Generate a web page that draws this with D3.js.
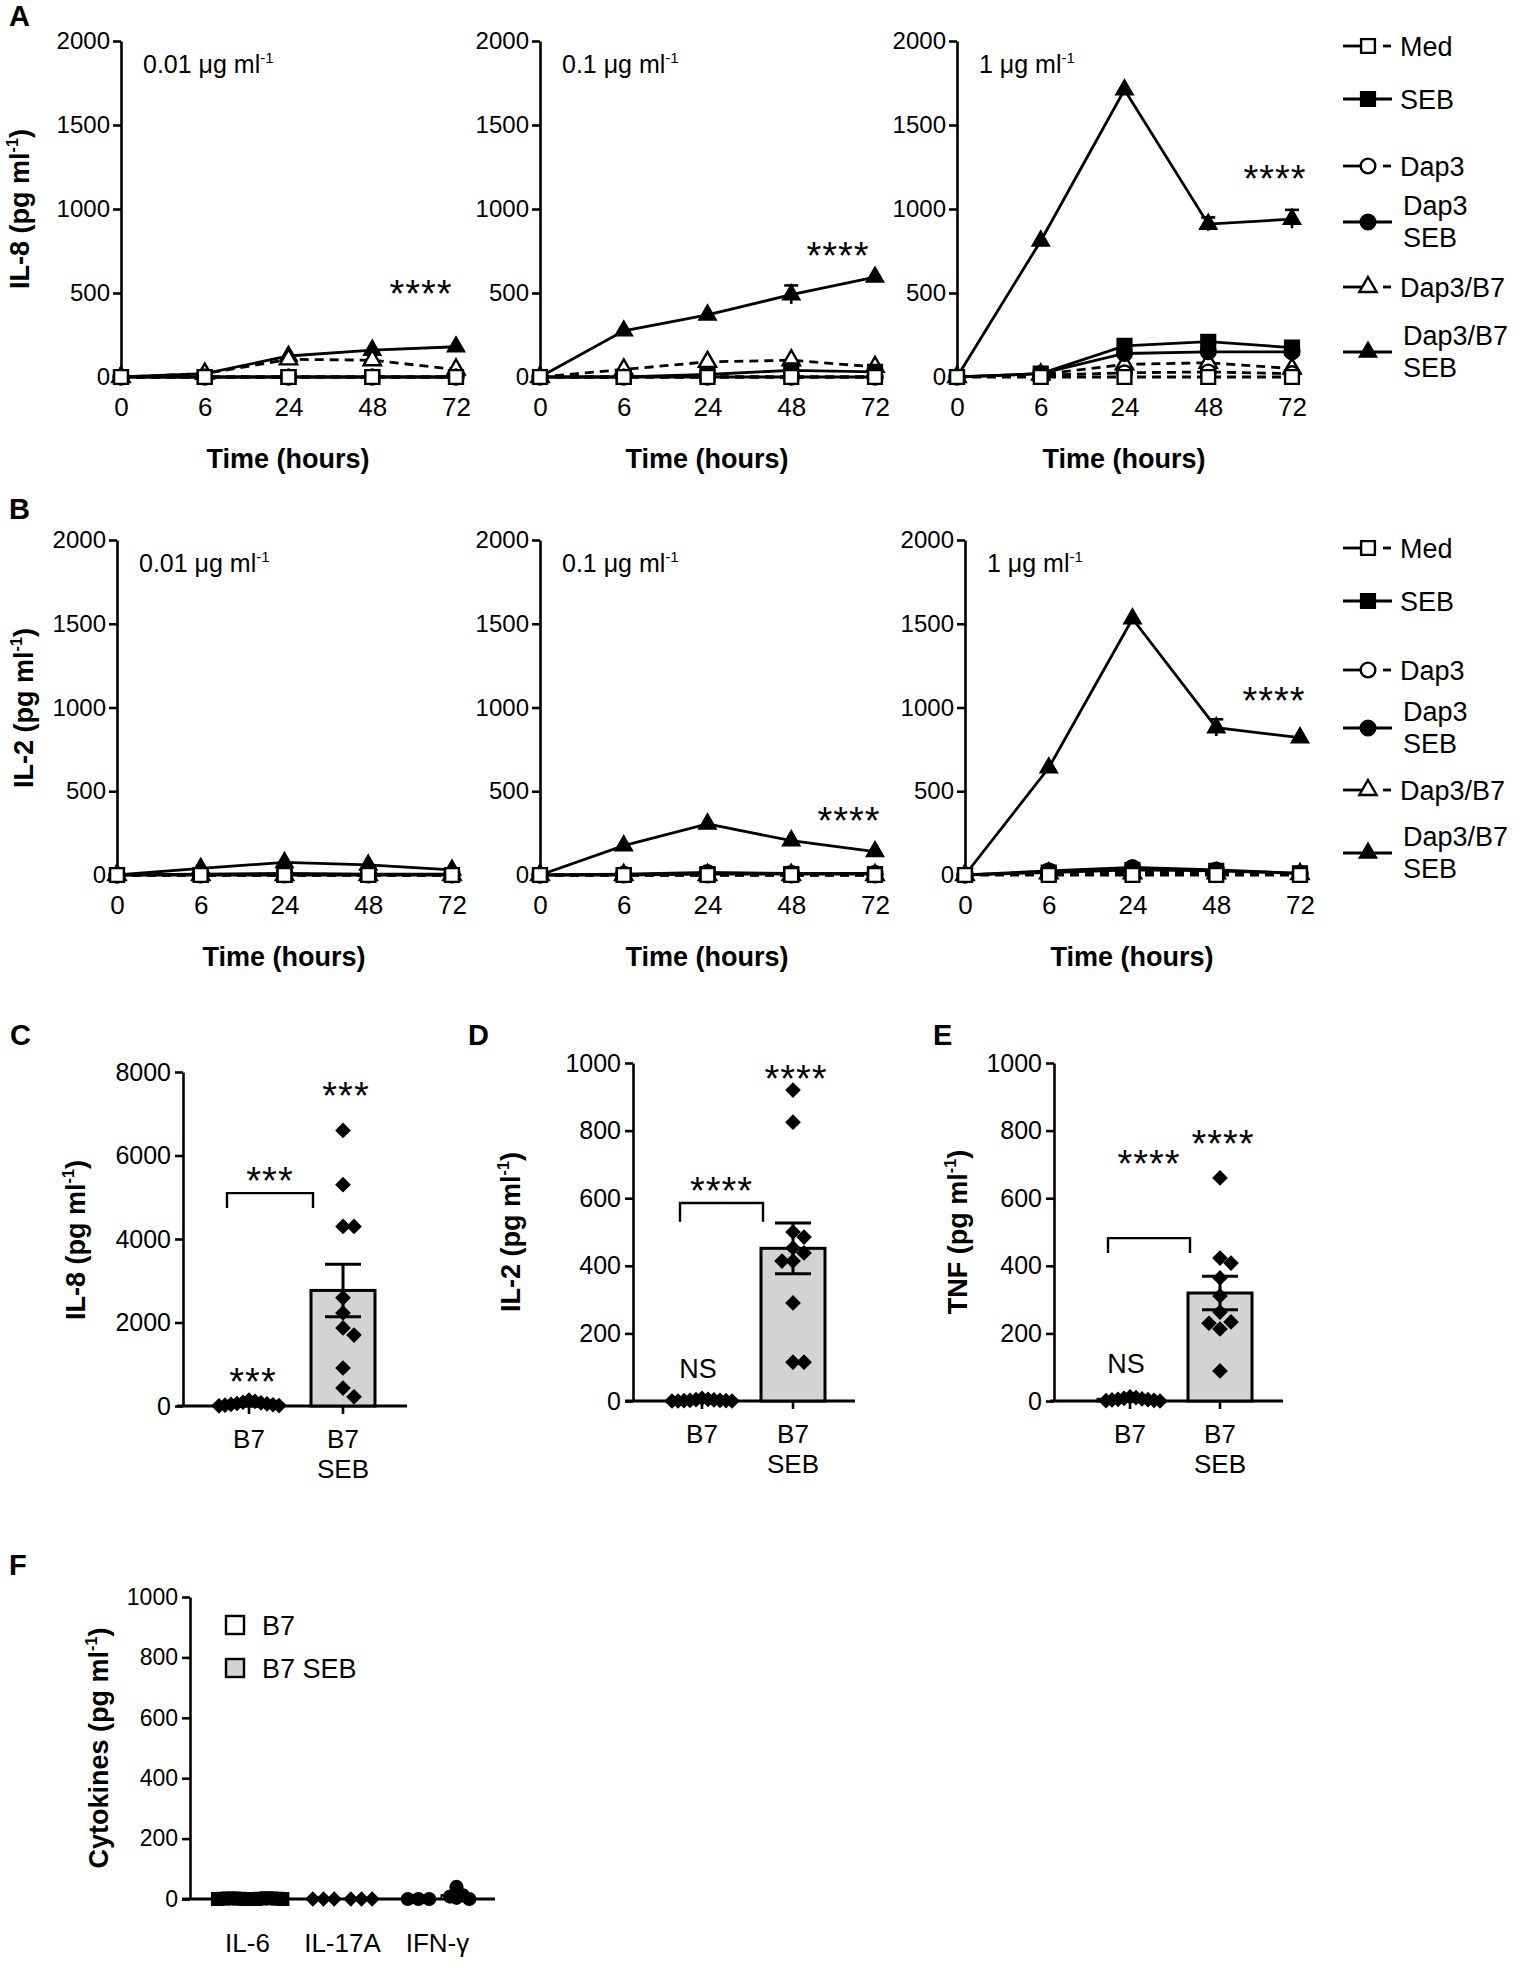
<!DOCTYPE html>
<html lang="en">
<head>
<meta charset="UTF-8">
<title>IL-8 / IL-2 / TNF response to SEB</title>
<script src="https://d3js.org/d3.v7.min.js"></script>
<style>
  body { margin: 0; background: #fff; }
  svg text { font-family: 'Liberation Sans', Arial, Helvetica, sans-serif; fill: #000; }
  .axis path, .axis line { stroke: #000; stroke-width: 2.6px; }
</style>
</head>
<body>
<svg id="fig" width="1522" height="1971"></svg>
<script>
// ---- data: time courses (rows follow seriesNames) ----
const timeLabels = ["0", "6", "24", "48", "72"];
const seriesNames = ["Med", "SEB", "Dap3", "Dap3 SEB", "Dap3/B7", "Dap3/B7 SEB"];
const doseLabels = ["0.01", "0.1", "1"];

const il8Low = [
  [0, 0, 0, 0, 0],
  [0, 0, 0, 0, 0],
  [0, 0, 0, 0, 0],
  [0, 0, 0, 0, 0],
  [0, 20, 105, 100, 45],
  [0, 20, 125, 160, 180]
];
const il8Mid = [
  [0, 0, 0, 0, 0],
  [0, 0, 15, 40, 30],
  [0, 0, 0, 0, 0],
  [0, 0, 0, 0, 0],
  [0, 45, 90, 100, 60],
  [0, 275, 370, 490, 595]
];
const il8High = [
  [0, 0, 0, 0, 0],
  [0, 20, 185, 210, 175],
  [0, 10, 25, 30, 20],
  [0, 20, 140, 150, 150],
  [0, 15, 75, 85, 50],
  [0, 810, 1710, 910, 940]
];
const il2Low = [
  [0, 0, 0, 0, 0],
  [0, 0, 0, 0, 0],
  [0, 0, 0, 0, 0],
  [0, 5, 10, 5, 5],
  [0, 0, 0, 0, 0],
  [0, 40, 75, 60, 30]
];
const il2Mid = [
  [0, 0, 0, 0, 0],
  [0, 0, 5, 5, 5],
  [0, 0, 0, 0, 0],
  [0, 5, 15, 10, 10],
  [0, 0, 0, 0, 0],
  [0, 175, 305, 205, 140]
];
const il2High = [
  [0, 0, 0, 0, 0],
  [0, 15, 30, 25, 10],
  [0, 20, 25, 20, 5],
  [0, 25, 45, 30, 10],
  [0, 10, 10, 10, 5],
  [0, 640, 1530, 880, 820]
];
// SEM of the Dap3/B7 SEB series
const il8LowErr = [0, 0, 0, 0, 0];
const il8MidErr = [0, 0, 0, 55, 0];
const il8HighErr = [0, 0, 0, 40, 55];
const il2LowErr = [0, 0, 0, 0, 0];
const il2MidErr = [0, 0, 0, 0, 0];
const il2HighErr = [0, 0, 0, 50, 0];

// ---- data: single donors at 24 h ----
const barGroups = ["B7", "B7 SEB"];
const il8B7 = [140, 110, 90, 75, 60, 50, 40, 30, 20, 10, 5];
const il8B7Seb = [6600, 5300, 4300, 4300, 2590, 2230, 1870, 1700, 910, 430, 220];
const il2B7 = [8, 5, 4, 3, 2, 2, 1, 1, 0, 0, 0];
const il2B7Seb = [920, 825, 500, 485, 453, 438, 414, 414, 290, 115, 115];
const tnfB7 = [12, 10, 8, 6, 5, 4, 3, 2, 1, 0];
const tnfB7Seb = [660, 423, 408, 364, 311, 263, 234, 230, 213, 89];

const cytokines = ["IL-6", "IL-17A", "IFN-γ"];
const otherB7 = [[2, 2, 1, 1, 0, 0], [0, 0, 0], [0, 0, 0]];
const otherB7Seb = [[3, 2, 1, 1, 0, 0], [0, 0, 0], [40, 12, 8, 4, 0]];

// ---- styles ----
const seriesShape = [d3.symbolSquare, d3.symbolSquare, d3.symbolCircle, d3.symbolCircle, d3.symbolTriangle, d3.symbolTriangle];
const seriesSize = [190, 190, 170, 170, 130, 110];
const seriesFilled = [false, true, false, true, false, true];
const seriesDashed = [true, false, true, false, true, false];

const svg = d3.select("#fig");

function panelLetter(t, x, y) {
  svg.append("text").attr("x", x).attr("y", y).text(t)
    .style("font-size", "29px").style("font-weight", "bold");
}

// text with a "-1" superscript unit
function unitText(g, pre, post, size) {
  g.append("tspan").text(pre);
  g.append("tspan").text("-1").attr("dy", -size * 0.4).style("font-size", (size * 0.6) + "px");
  if (post) g.append("tspan").text(post).attr("dy", size * 0.4);
}

function yTitle(label, x, y) {
  const t = svg.append("text")
    .attr("transform", `translate(${x},${y}) rotate(-90)`)
    .attr("text-anchor", "middle")
    .style("font-size", "27px").style("font-weight", "bold");
  unitText(t, label + " (pg ml", ")", 27);
}

function marker(g, shape, size, cx, cy, filled, rot) {
  g.append("path")
    .attr("d", d3.symbol(shape, size)())
    .attr("transform", `translate(${cx},${cy})` + (rot ? ` rotate(${rot})` : ""))
    .attr("fill", filled === true ? "#000" : (filled || "#fff"))
    .attr("stroke", "#000").attr("stroke-width", 2.4);
}

function starText(g, x, y, t) {
  g.append("text").attr("x", x).attr("y", y + 22).attr("text-anchor", "middle")
    .style("font-size", "38px").style("letter-spacing", "1px").text(t);
}

// ---------- time-course panels ----------
function timeChart(o) {
  const x = d3.scalePoint().domain(timeLabels).range([o.ax, o.ax + 335]);
  const y = d3.scaleLinear().domain([0, 2000]).range([o.base, o.top]);
  const g = svg.append("g");

  g.append("g").attr("class", "axis").attr("transform", `translate(${o.ax},0)`)
    .call(d3.axisLeft(y).tickValues([0, 500, 1000, 1500, 2000]).tickFormat(d3.format("d"))
      .tickSize(8).tickSizeOuter(0).tickPadding(3))
    .call(a => a.selectAll("text").style("font-size", "24px"));

  g.append("g").attr("transform", `translate(0,${o.base})`)
    .call(d3.axisBottom(x).tickSize(0).tickPadding(21))
    .call(a => a.select(".domain").remove())
    .call(a => a.selectAll("text").style("font-size", "26px"));

  g.append("text").attr("x", o.ax + 167).attr("y", o.base + 91)
    .attr("text-anchor", "middle").style("font-size", "27px").style("font-weight", "bold")
    .text("Time (hours)");

  const dose = g.append("text").attr("x", o.ax + 22).attr("y", o.top + 32).style("font-size", "25px");
  unitText(dose, o.dose + " μg ml", null, 25);

  const line = d3.line().x((d, i) => x(timeLabels[i])).y(d => y(d));
  // last series first, so Med ends on top
  d3.range(o.rows.length).reverse().forEach(s => {
    const vals = o.rows[s];
    g.append("path").attr("d", line(vals)).attr("fill", "none")
      .attr("stroke", "#000").attr("stroke-width", 2.8)
      .attr("stroke-dasharray", seriesDashed[s] ? "9,6" : null);
    if (s === 5) {
      o.err.forEach((e, i) => {
        if (!e) return;
        const cx = x(timeLabels[i]);
        g.append("line").attr("x1", cx).attr("x2", cx)
          .attr("y1", y(vals[i] - e)).attr("y2", y(vals[i] + e))
          .attr("stroke", "#000").attr("stroke-width", 2.6);
        g.append("line").attr("x1", cx - 7).attr("x2", cx + 7)
          .attr("y1", y(vals[i] + e)).attr("y2", y(vals[i] + e))
          .attr("stroke", "#000").attr("stroke-width", 2.6);
      });
    }
    vals.forEach((v, i) => marker(g, seriesShape[s], seriesSize[s], x(timeLabels[i]), y(v), seriesFilled[s]));
  });

  if (o.star != null) starText(g, x("72") + o.starDx, y(o.star), "****");
}

function timeLegend(rowY) {
  const g = svg.append("g");
  seriesNames.forEach((name, s) => {
    const cy = rowY[s];
    if (seriesDashed[s]) {
      g.append("line").attr("x1", 1343).attr("x2", 1368).attr("y1", cy).attr("y2", cy)
        .attr("stroke", "#000").attr("stroke-width", 2.8);
      g.append("line").attr("x1", 1383).attr("x2", 1391).attr("y1", cy).attr("y2", cy)
        .attr("stroke", "#000").attr("stroke-width", 2.8);
    } else {
      g.append("line").attr("x1", 1343).attr("x2", 1392).attr("y1", cy).attr("y2", cy)
        .attr("stroke", "#000").attr("stroke-width", 2.8);
    }
    marker(g, seriesShape[s], seriesSize[s], 1368, cy, seriesFilled[s]);
    const lines = name.split(" ");
    lines.forEach((t, k) => {
      const by = lines.length === 1 ? cy + 10 : cy - 7 + k * 32;
      g.append("text").attr("x", lines.length === 1 ? 1400 : 1403).attr("y", by)
        .style("font-size", "27px").text(t);
    });
  });
}

// panel A: IL-8
panelLetter("A", 9, 26);
yTitle("IL-8", 29, 209);
const il8Rows = [il8Low, il8Mid, il8High];
const il8Errs = [il8LowErr, il8MidErr, il8HighErr];
const aAxes = [121, 540, 957];
const aStars = [548, 774, 1232];
const aStarDx = [-35, -37, -17];
doseLabels.forEach((d, i) => timeChart({
  ax: aAxes[i], top: 41, base: 377, dose: d, rows: il8Rows[i], err: il8Errs[i],
  star: aStars[i], starDx: aStarDx[i]
}));
timeLegend([46, 99, 166, 222, 287, 352]);

// panel B: IL-2
panelLetter("B", 9, 519);
yTitle("IL-2", 33, 708);
const il2Rows = [il2Low, il2Mid, il2High];
const il2Errs = [il2LowErr, il2MidErr, il2HighErr];
const bAxes = [117, 540, 965];
const bStars = [null, 376, 1093];
const bStarDx = [0, -26, -26];
doseLabels.forEach((d, i) => timeChart({
  ax: bAxes[i], top: 540, base: 875, dose: d, rows: il2Rows[i], err: il2Errs[i],
  star: bStars[i], starDx: bStarDx[i]
}));
timeLegend([548, 601, 670, 728, 790, 853]);

// ---------- scatter-bar panels ----------
const diamond = d3.symbolSquare;

// spread tied points sideways (simple beeswarm)
function swarm(values, y, step, rad) {
  const placed = [];
  const out = new Array(values.length);
  d3.range(values.length).sort((a, b) => values[b] - values[a]).forEach(i => {
    const py = y(values[i]);
    for (let k = 0; k < 60; k++) {
      const off = (k % 2 ? 1 : -1) * Math.ceil(k / 2) * step;
      if (!placed.some(p => Math.abs(p.x - off) < step * 0.99 && Math.abs(p.y - py) < rad)) {
        placed.push({ x: off, y: py });
        out[i] = off;
        break;
      }
    }
  });
  return out;
}

function barChart(o) {
  const g = svg.append("g");
  const x = d3.scalePoint().domain(barGroups).range(o.centers);
  const y = d3.scaleLinear().domain([0, o.max]).range([o.base, o.top]);

  g.append("g").attr("class", "axis").attr("transform", `translate(${o.ax},0)`)
    .call(d3.axisLeft(y).ticks(5).tickFormat(d3.format("d")).tickSize(8).tickSizeOuter(0).tickPadding(4))
    .call(a => a.selectAll("text").style("font-size", "25px"));

  g.append("line").attr("x1", o.lineX[0]).attr("x2", o.lineX[1])
    .attr("y1", o.base).attr("y2", o.base).attr("stroke", "#000").attr("stroke-width", 3);

  barGroups.forEach((grp, gi) => {
    const vals = o.data[gi];
    const cx = x(grp);
    const m = d3.mean(vals);
    const sem = d3.deviation(vals) / Math.sqrt(vals.length);
    g.append("line").attr("x1", cx).attr("x2", cx).attr("y1", o.base).attr("y2", o.base + 8)
      .attr("stroke", "#000").attr("stroke-width", 2.6);
    g.append("rect").attr("x", cx - 32).attr("width", 64)
      .attr("y", y(m)).attr("height", o.base - y(m))
      .attr("fill", gi ? "#d3d3d3" : "#fff").attr("stroke", "#000").attr("stroke-width", 3);
    const offs = swarm(vals, y, gi ? 11 : 6, 12);
    vals.forEach((v, i) => marker(g, diamond, 76, cx + offs[i], y(v), true, 45));
    if (gi) {
      g.append("line").attr("x1", cx).attr("x2", cx).attr("y1", y(m - sem)).attr("y2", y(m + sem))
        .attr("stroke", "#000").attr("stroke-width", 3);
      [m - sem, m + sem].forEach(v => g.append("line")
        .attr("x1", cx - 18).attr("x2", cx + 18).attr("y1", y(v)).attr("y2", y(v))
        .attr("stroke", "#000").attr("stroke-width", 3));
    }
    const lab = g.append("text").attr("x", cx).attr("text-anchor", "middle").style("font-size", "26px");
    grp.split(" ").forEach((t, k) => lab.append("tspan").attr("x", cx).attr("y", o.base + 42 + k * 30).text(t));
  });

  // comparison bracket
  const bx0 = x("B7") - 22, bx1 = x("B7 SEB") - 30;
  g.append("path")
    .attr("d", `M${bx0},${y(o.bracket[1])}V${y(o.bracket[0])}H${bx1}V${y(o.bracket[1])}`)
    .attr("fill", "none").attr("stroke", "#000").attr("stroke-width", 2.4);
  starText(g, (bx0 + bx1) / 2, y(o.bracketStar[1]), o.bracketStar[0]);
  starText(g, x("B7 SEB") + 3, y(o.sebStar[1]), o.sebStar[0]);
  if (o.b7Note[0] === "NS") {
    g.append("text").attr("x", x("B7") - 4).attr("y", y(o.b7Note[1]) + 10).attr("text-anchor", "middle")
      .style("font-size", "27px").text("NS");
  } else {
    starText(g, x("B7") + 4, y(o.b7Note[1]), o.b7Note[0]);
  }
}

panelLetter("C", 10, 1045);
yTitle("IL-8", 85, 1240);
barChart({
  ax: 183, lineX: [177, 407], centers: [249, 343], base: 1406, top: 1072, max: 8000,
  data: [il8B7, il8B7Seb], bracket: [5100, 4740], bracketStar: ["***", 5605],
  sebStar: ["***", 7640], b7Note: ["***", 790]
});

panelLetter("D", 468, 1045);
yTitle("IL-2", 520, 1232);
barChart({
  ax: 633, lineX: [625, 855], centers: [702, 793], base: 1401, top: 1063, max: 1000,
  data: [il2B7, il2B7Seb], bracket: [586, 530], bracketStar: ["****", 648],
  sebStar: ["****", 979], b7Note: ["NS", 98]
});

panelLetter("E", 933, 1045);
yTitle("TNF", 967, 1232);
barChart({
  ax: 1054, lineX: [1050, 1283], centers: [1130, 1220], base: 1401, top: 1063, max: 1000,
  data: [tnfB7, tnfB7Seb], bracket: [482, 438], bracketStar: ["****", 728],
  sebStar: ["****", 787], b7Note: ["NS", 112]
});

// ---------- panel F ----------
panelLetter("F", 9, 1575);
{
  const g = svg.append("g");
  const x0 = d3.scaleBand().domain(cytokines).range([200, 485]);
  const x1 = d3.scalePoint().domain(barGroups).range([-19, 19]);
  const y = d3.scaleLinear().domain([0, 1000]).range([1899, 1597]);
  const fShape = [d3.symbolSquare, d3.symbolSquare, d3.symbolCircle];
  const fRot = [0, 45, 0];
  const fSize = [130, 72, 110];

  g.append("g").attr("class", "axis").attr("transform", "translate(190,0)")
    .call(d3.axisLeft(y).ticks(5).tickFormat(d3.format("d")).tickSize(8).tickSizeOuter(0).tickPadding(4))
    .call(a => a.selectAll("text").style("font-size", "23px"));
  g.append("line").attr("x1", 182).attr("x2", 495).attr("y1", 1899).attr("y2", 1899)
    .attr("stroke", "#000").attr("stroke-width", 3);

  cytokines.forEach((c, ci) => {
    const cc = x0(c) + x0.bandwidth() / 2;
    [otherB7[ci], otherB7Seb[ci]].forEach((vals, gi) => {
      const cx = cc + x1(barGroups[gi]);
      const m = d3.mean(vals);
      g.append("rect").attr("x", cx - 15).attr("width", 30).attr("y", y(m)).attr("height", 1899 - y(m))
        .attr("fill", gi ? "#d3d3d3" : "#fff").attr("stroke", "#000").attr("stroke-width", 2);
      const offs = swarm(vals, y, 32 / vals.length, 10);
      vals.forEach((v, i) => marker(g, fShape[ci], fSize[ci], cx + offs[i], y(v), true, fRot[ci]));
    });
    g.append("text").attr("x", cc).attr("y", 1952).attr("text-anchor", "middle")
      .style("font-size", "26px").text(c);
  });

  // legend
  barGroups.forEach((grp, gi) => {
    const ly = 1625 + gi * 43;
    g.append("rect").attr("x", 226).attr("y", ly - 9).attr("width", 18).attr("height", 18)
      .attr("fill", gi ? "#d3d3d3" : "#fff").attr("stroke", "#000").attr("stroke-width", 2.4);
    g.append("text").attr("x", 262).attr("y", ly + 10).style("font-size", "27px").text(grp);
  });
}
yTitle("Cytokines", 108, 1748);
</script>
</body>
</html>
